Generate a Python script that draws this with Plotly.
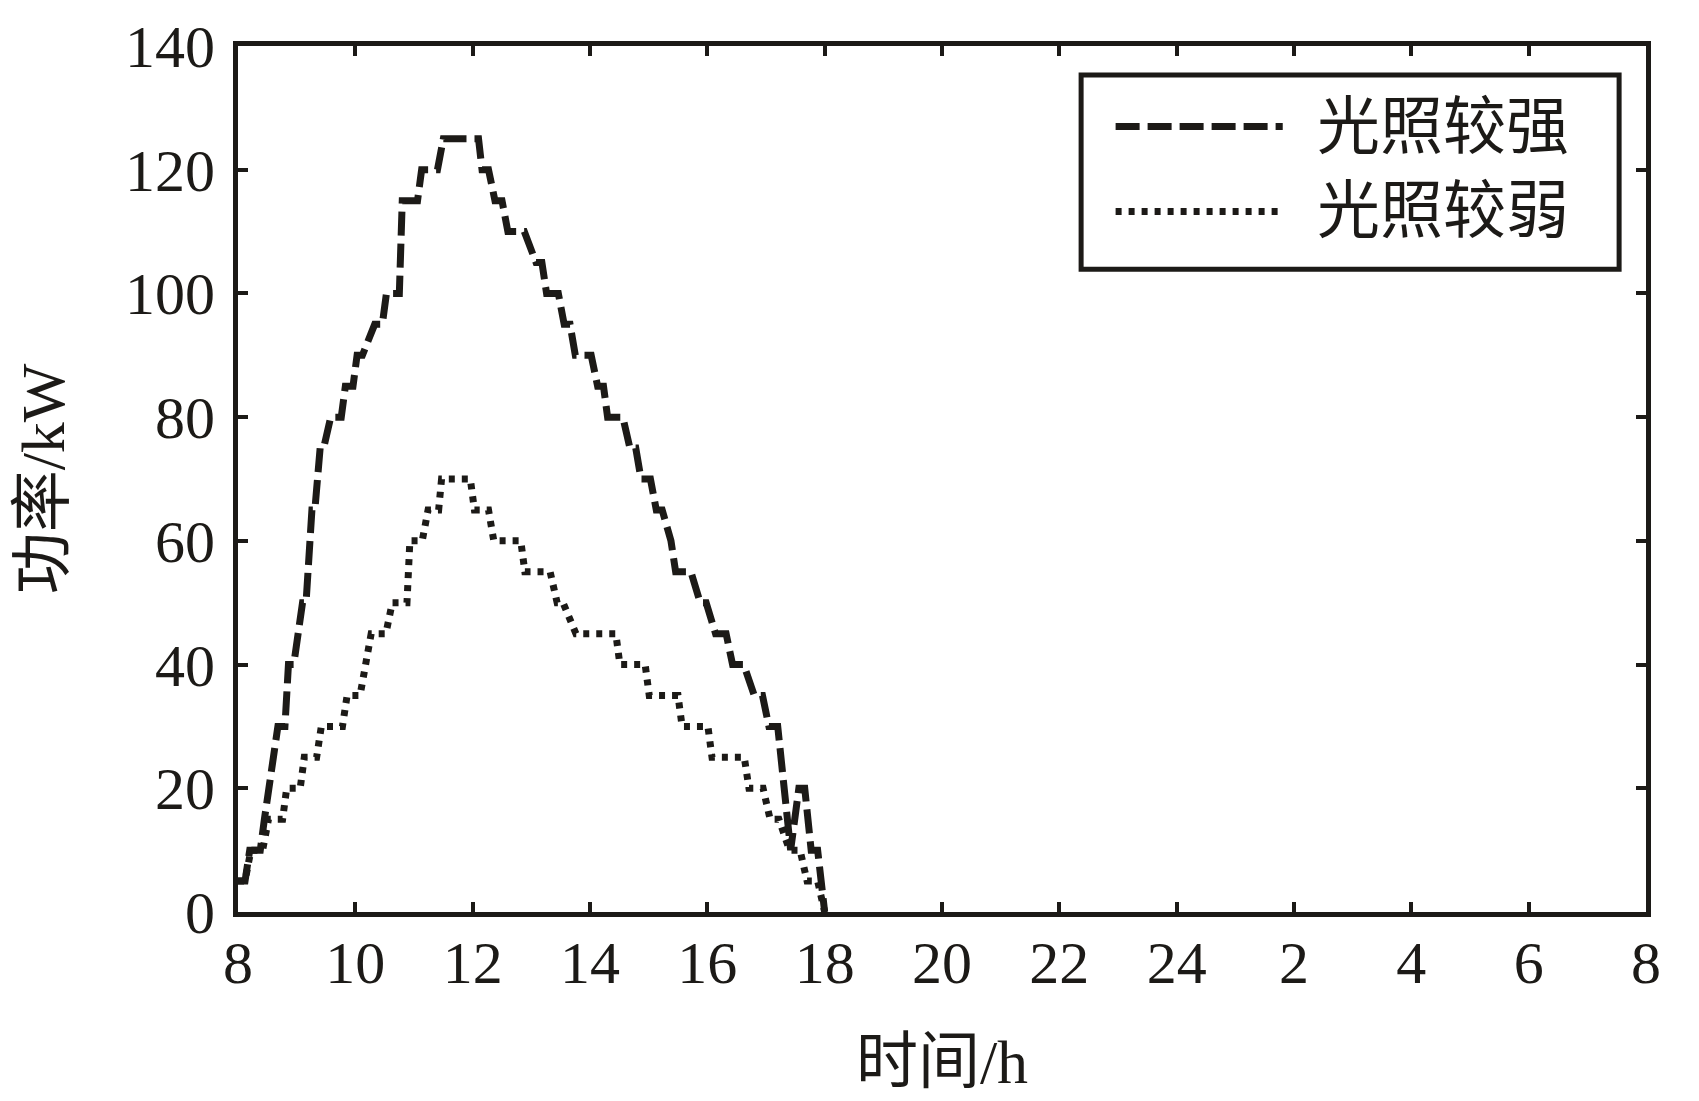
import plotly.graph_objects as go

# ---- data ----
strong_h = [8.00, 8.12, 8.20, 8.38, 8.45, 8.68, 8.80, 8.86, 8.95, 9.10, 9.16, 9.26, 9.31, 9.40, 9.46,
            9.58, 9.76, 9.83, 9.96, 10.03, 10.12, 10.33, 10.46, 10.53, 10.75, 10.80, 11.06, 11.13, 11.40,
            11.50, 12.10, 12.16, 12.27, 12.38, 12.50, 12.60, 12.88, 13.08, 13.18, 13.26, 13.46, 13.56,
            13.66, 13.75, 14.02, 14.13, 14.23, 14.30, 14.56, 14.68, 14.78, 14.87, 15.03, 15.13, 15.23,
            15.38, 15.46, 15.72, 15.88, 15.98, 16.14, 16.32, 16.43, 16.62, 16.80, 16.94, 17.05, 17.20,
            17.42, 17.56, 17.66, 17.77, 17.88, 18.00]
strong_kw = [5, 5, 10, 10, 15, 30, 30, 40, 40, 50, 50, 65, 65, 75, 75,
             80, 80, 85, 85, 90, 90, 95, 95, 100, 100, 115, 115, 120, 120,
             125, 125, 120, 120, 115, 115, 110, 110, 105, 105, 100, 100, 95,
             95, 90, 90, 85, 85, 80, 80, 75, 75, 70, 70, 65, 65,
             60, 55, 55, 50, 50, 45, 45, 40, 40, 35, 35, 30, 30,
             10, 20, 20, 10, 10, 0]

weak_h = [8.00, 8.12, 8.22, 8.42, 8.52, 8.76, 8.83, 9.06, 9.13, 9.34, 9.42, 9.78, 9.86, 10.08, 10.27,
          10.52, 10.63, 10.88, 10.93, 11.14, 11.24, 11.42, 11.47, 11.96, 12.03, 12.27, 12.36, 12.82,
          12.89, 13.32, 13.44, 13.54, 13.76, 14.44, 14.51, 14.94, 15.01, 15.50, 15.57, 16.01, 16.08,
          16.63, 16.71, 16.95, 17.07, 17.22, 17.40, 17.58, 17.70, 17.88, 18.00]
weak_kw = [5, 5, 10, 10, 15, 15, 20, 20, 25, 25, 30, 30, 35, 35, 45,
           45, 50, 50, 60, 60, 65, 65, 70, 70, 65, 65, 60, 60,
           55, 55, 50, 50, 45, 45, 40, 40, 35, 35, 30, 30, 25,
           25, 20, 20, 15, 15, 10, 10, 5, 5, 0]

x_tickvals = [8, 10, 12, 14, 16, 18, 20, 22, 24, 26, 28, 30, 32]
x_ticktext = ["8", "10", "12", "14", "16", "18", "20", "22", "24", "2", "4", "6", "8"]
y_tickvals = [0, 20, 40, 60, 80, 100, 120, 140]

series_names = ["光照较强", "光照较弱"]

# ---- style ----
INK = "#1c1a17"
FONT = "Liberation Serif, Times New Roman, Noto Sans CJK SC, serif"
DASH_STRONG = "24px,8px"
DASH_WEAK = "6px,7px"

fig = go.Figure()
fig.add_trace(go.Scatter(x=strong_h, y=strong_kw, mode="lines", name=series_names[0],
                         line=dict(color=INK, width=7, dash=DASH_STRONG), showlegend=False))
fig.add_trace(go.Scatter(x=weak_h, y=weak_kw, mode="lines", name=series_names[1],
                         line=dict(color=INK, width=7, dash=DASH_WEAK), showlegend=False))

axis_common = dict(showline=True, linewidth=5, linecolor=INK, mirror="allticks",
                   ticks="inside", ticklen=10, tickwidth=4, tickcolor=INK,
                   showgrid=False, zeroline=False, automargin=False,
                   tickfont=dict(family=FONT, size=60, color=INK))

fig.update_xaxes(range=[8, 32], tickmode="array", tickvals=x_tickvals, ticktext=x_ticktext,
                 ticklabelstandoff=-6,
                 title=dict(text="时间/h", font=dict(family=FONT, size=62, color=INK), standoff=46),
                 **axis_common)
fig.update_yaxes(range=[0, 140], tickmode="array", tickvals=y_tickvals,
                 ticklabelstandoff=6,
                 title=dict(text="功率/kW", font=dict(family=FONT, size=62, color=INK), standoff=42),
                 **axis_common)

# ---- legend drawn as a framed box ----
fig.add_shape(type="rect", xref="paper", yref="paper", x0=0.5988, x1=0.9809, y0=0.7422, y1=0.9664,
              line=dict(color=INK, width=5), fillcolor="white", layer="above")
legend_rows = [(0.9070, DASH_STRONG), (0.8090, DASH_WEAK)]
for (yy, dash), name in zip(legend_rows, series_names):
    fig.add_shape(type="line", xref="paper", yref="paper", x0=0.6233, x1=0.7420, y0=yy, y1=yy,
                  line=dict(color=INK, width=7, dash=dash), layer="above")
    fig.add_annotation(xref="paper", yref="paper", x=0.7650, y=yy, text=name, showarrow=False,
                       xanchor="left", yanchor="middle",
                       font=dict(family=FONT, size=63, color=INK))

fig.update_layout(width=1699, height=1101, paper_bgcolor="white", plot_bgcolor="white",
                  margin=dict(l=230, r=61, t=38, b=197), showlegend=False)

fig.write_html("out.html")
